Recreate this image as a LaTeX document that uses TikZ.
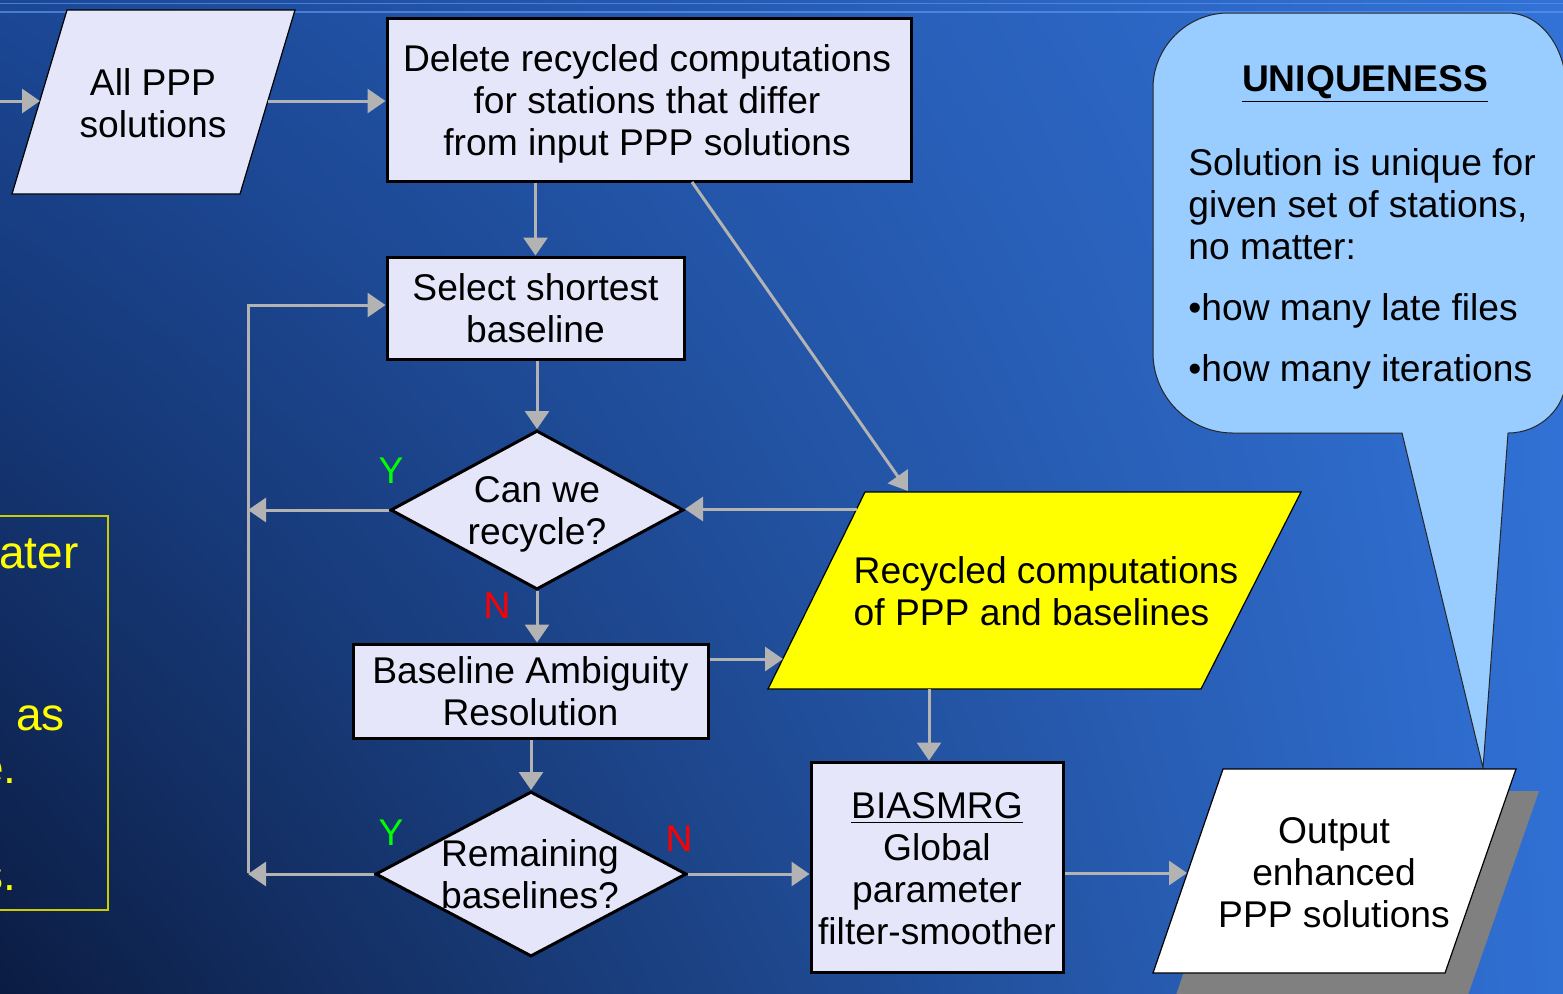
\documentclass[tikz,border=0pt]{standalone}
\usepackage{fontspec}
\setmainfont{Liberation Sans}
\usetikzlibrary{arrows.meta,shapes.geometric,calc,shadings}
\definecolor{boxfill}{HTML}{E6E6FA}
\definecolor{arrowgray}{HTML}{B3B3B3}
\definecolor{calloutfill}{HTML}{99CCFF}
\definecolor{bgLL}{HTML}{0B1C42}
\definecolor{bgUL}{HTML}{1B4795}
\definecolor{bgUR}{HTML}{3272D6}
\definecolor{bgLR}{HTML}{3070D4}
\definecolor{bandline}{HTML}{5A94EC}
\definecolor{ygreen}{HTML}{00FF00}
\definecolor{nred}{HTML}{FF0000}
\definecolor{yfill}{HTML}{FFFF00}
\definecolor{yline}{HTML}{CCCC00}
\definecolor{shadowgray}{HTML}{808080}
\begin{document}
\begin{tikzpicture}[x=0.5pt,y=-0.5pt,
  txt/.style={font=\fontsize{18.6}{21}\selectfont, align=center, inner sep=0pt},
  bigtxt/.style={font=\fontsize{23}{27}\selectfont, inner sep=0pt, text=yfill, anchor=base east},
  procbox/.style={txt, draw=black, line width=1.5pt, fill=boxfill, rectangle},
  decbox/.style={diamond, draw=black, line width=1.5pt, fill=boxfill, inner sep=0pt},
  para/.style={draw=black, line width=0.6pt},
  conn/.style={draw=arrowgray, line width=1.5pt},
  arr/.style={conn, -{Triangle[length=9pt,width=12pt]}},
  label/.style={txt},
]
\useasboundingbox (0,0) rectangle (1563,993);
\clip (0,0) rectangle (1563,993);
% background
\shade[upper left=bgUL, upper right=bgUR, lower left=bgLL, lower right=bgLR] (0,0) rectangle (1563,993);
\draw[bandline, line width=0.8pt, opacity=0.7] (0,3.5) -- (1563,3.5);
\draw[bandline, line width=1pt, opacity=0.7] (0,12) -- (1563,12);

% left clipped yellow text box
\draw[yline, line width=0.6pt] (-5,516) rectangle (108,910);
\node[bigtxt] (lt1) at (79,568) {ater};
\node[bigtxt] (lt2) at (65,730) {as};
\node[bigtxt] (lt3) at (17,783) {e.};
\node[bigtxt] (lt4) at (17,890) {s.};

% callout
\draw[fill=calloutfill, draw=black!85, line width=0.5pt]
  (1153,88) .. controls (1153,47) and (1187,13) .. (1228,13)
  -- (1508,13) .. controls (1540,13) and (1566,47) .. (1566,88)
  -- (1566,378) .. controls (1566,408) and (1540,433) .. (1508,433)
  -- (1483,768) -- (1402,433) -- (1233,433)
  .. controls (1189,433) and (1153,397) .. (1153,353) -- cycle;
\node[txt, font=\fontsize{18.6}{21}\selectfont\bfseries] (uniq) at (1365,84) {\underline{UNIQUENESS}};
\node[txt, anchor=base west, align=left] (uniqtext) at (1188,381)
  {Solution is unique for\\given set of stations,\\no matter:\\[9.5pt]•how many late files\\[9.5pt]•how many iterations};

% All PPP solutions
\draw[para, fill=boxfill] (67,10) -- (295,10) -- (240,194) -- (12,194) -- cycle;
\node[txt] (allppp) at (153,103) {All PPP\\solutions};
\coordinate (src) at (0,101);
\coordinate (allppp-w) at (40,101);
\coordinate (allppp-e) at (268,101);

% process boxes
\node[procbox, minimum width=262pt, minimum height=81.5pt] (del) at (649,99.5) {};
\node[txt] (del-t) at (647,103.5)
  {Delete recycled computations\\for stations that differ\\from input PPP solutions};
\node[procbox, minimum width=148.5pt, minimum height=51pt] (sel) at (535.5,308)
  {Select shortest\\baseline};
\node[procbox, minimum width=177.5pt, minimum height=47pt] (bar) at (530.5,691)
  {Baseline Ambiguity\\Resolution};
\node[procbox, minimum width=126pt, minimum height=105pt] (bias) at (937,867) {};
\node[txt] (bias-t) at (937,869)
  {\underline{BIASMRG}\\Global\\parameter\\filter-smoother};

% decisions
\node[decbox, minimum width=146.5pt, minimum height=79.5pt] (cw) at (537,510) {};
\node[txt] (cw-t) at (537,514.5) {Can we\\recycle?};
\node[decbox, minimum width=155.5pt, minimum height=82.5pt] (rem) at (531,874) {};
\node[txt] (rem-t) at (530,874) {Remaining\\baselines?};

% recycled computations
\draw[para, fill=yfill] (865,492) -- (1301,492) -- (1201,689) -- (768,689) -- cycle;
\node[txt, align=left] (recyc) at (1046,591) {Recycled computations\\of PPP and baselines};
\coordinate (recyc-n) at (908,491);
\coordinate (recyc-w) at (857,509);
\coordinate (recyc-bw) at (783,659);
\coordinate (recyc-s) at (929,689);

% output
\fill[shadowgray] (1246,791) -- (1539,791) -- (1468,995) -- (1176,995) -- cycle;
\draw[para, fill=white] (1223,769) -- (1516,769) -- (1445,973) -- (1153,973) -- cycle;
\node[txt] (out) at (1334,873) {Output\\enhanced\\PPP solutions};
\coordinate (out-w) at (1187,873);

% labels
\node[label, text=ygreen] (y1) at (391,471) {Y};
\node[label, text=nred] (n1) at (497,606) {N};
\node[label, text=ygreen] (y2) at (391,833) {Y};
\node[label, text=nred] (n2) at (679,839) {N};

% loop coordinates
\coordinate (looptop) at (248,305);
\coordinate (loopbot) at (248,873);

% connectors
\draw[arr] (src) -- (allppp-w);
\draw[arr] (allppp-e) -- (allppp-e -| del.west);
\draw[arr] (sel.north |- del.south) -- (sel.north);
\coordinate (del-d) at (692,182);
\draw[arr] (del-d) -- (recyc-n);
\draw[arr] (cw.north |- sel.south) -- (cw.north);
\draw[arr] (recyc-w) -- (recyc-w -| cw.east);
\draw[arr] (cw.west) -- (cw.west -| looptop);
\draw[arr] (cw.south) -- (cw.south |- bar.north);
\draw[arr] (bar.east |- recyc-bw) -- (recyc-bw);
\draw[arr] (rem.north |- bar.south) -- (rem.north);
\draw[arr] (rem.west) -- (rem.west -| loopbot);
\draw[arr] (loopbot) -- (looptop) -- (looptop -| sel.west);
\draw[arr] (rem.east) -- (rem.east -| bias.west);
\draw[arr] (recyc-s) -- (recyc-s |- bias.north);
\draw[arr] (bias.east |- out-w) -- (out-w);
\end{tikzpicture}
\end{document}
